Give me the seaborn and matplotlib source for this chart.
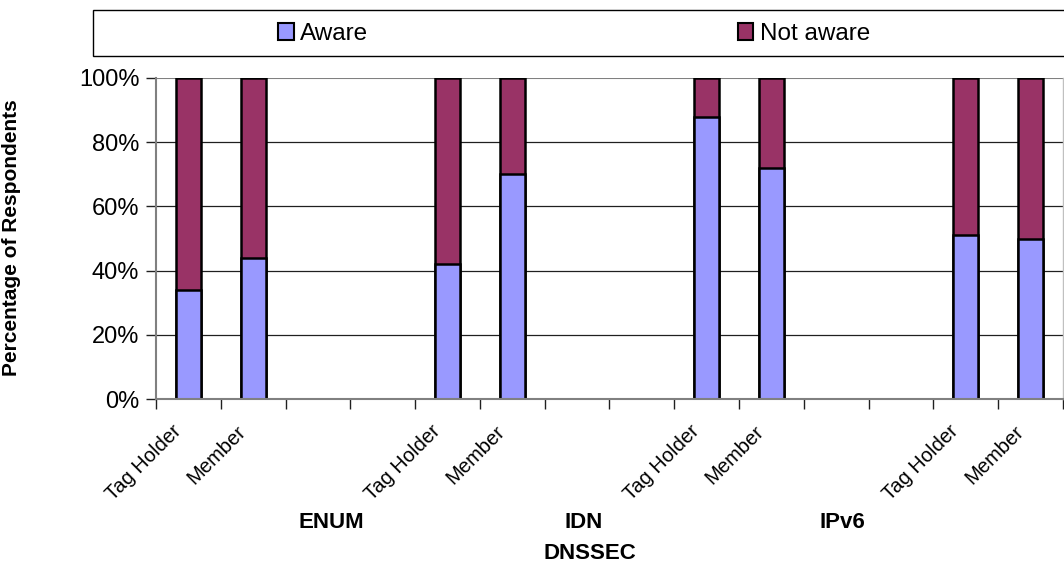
import matplotlib
matplotlib.use("Agg")
import matplotlib.pyplot as plt
from matplotlib.patches import Rectangle, Patch
from matplotlib.transforms import ScaledTranslation
import seaborn as sns
import pandas as pd
import numpy as np

# ---- data ----
slot_ids = [f"s{i}" for i in range(14)]
bar_slots = ["s0", "s1", "s4", "s5", "s8", "s9", "s12", "s13"]
respondent_labels = ["Tag Holder", "Member", "Tag Holder", "Member",
                     "Tag Holder", "Member", "Tag Holder", "Member"]
aware = [34, 44, 42, 70, 88, 72, 51, 50]
not_aware = [66, 56, 58, 30, 12, 28, 49, 50]
group_labels = ["ENUM", "IDN", "IPv6", "DNSSEC"]
series_names = ["Aware", "Not aware"]
y_ticks = [0, 20, 40, 60, 80, 100]

AWARE_C = "#9999FF"
NOT_C = "#993366"

df = pd.DataFrame({"slot": bar_slots, "label": respondent_labels,
                   "aware": aware, "not_aware": not_aware})
df["total"] = df["aware"] + df["not_aware"]

sns.set_theme(style="white")
plt.rcParams["font.family"] = ["Liberation Sans", "DejaVu Sans"]
plt.rcParams["text.color"] = "black"
plt.rcParams["xtick.color"] = "black"
plt.rcParams["ytick.color"] = "black"
plt.rcParams["axes.labelcolor"] = "black"

fig = plt.figure(figsize=(10.64, 5.65), dpi=100)
ax = fig.add_axes([156 / 1064, 1 - 399 / 565, (1063 - 156) / 1064, (399 - 78) / 565])

sns.barplot(data=df, x="slot", y="total", order=slot_ids, color=NOT_C,
            width=0.39, edgecolor="black", linewidth=1.8, saturation=1, ax=ax)
sns.barplot(data=df, x="slot", y="aware", order=slot_ids, color=AWARE_C,
            width=0.39, edgecolor="black", linewidth=1.8, saturation=1, ax=ax)

ax.set_xlim(-0.5, 13.5)
ax.set_ylim(0, 100)

# grid
ax.set_yticks(y_ticks)
ax.set_yticklabels([f"{v}%" for v in y_ticks], fontsize=17)
for v in y_ticks[1:-1]:
    ax.axhline(v, color="#202020", lw=0.9, zorder=0)
ax.axhline(100, color="#808080", lw=1.5, zorder=0)

for s in ["left", "bottom"]:
    ax.spines[s].set_color("#808080")
    ax.spines[s].set_linewidth(1.5)
ax.spines["right"].set_color("#c0c0c0")
ax.spines["right"].set_linewidth(1.0)
ax.spines["top"].set_visible(False)

ax.tick_params(axis="y", which="major", left=True, length=7, width=1.0,
               color="#202020", pad=5)

# x ticks: major at slot boundaries, minor (labels) at bars
bounds = np.arange(-0.5, 14.0, 1.0)
ax.set_xticks(bounds)
ax.set_xticklabels([""] * len(bounds))
ax.tick_params(axis="x", which="major", bottom=True, length=7, width=1.0,
               color="#202020")
pos = [slot_ids.index(s) for s in bar_slots]
ax.set_xticks(pos, minor=True)
ax.set_xticklabels(respondent_labels, minor=True, rotation=45, ha="right",
                   va="top", rotation_mode="anchor", fontsize=14.5)
ax.tick_params(axis="x", which="minor", length=0, pad=16.4)
shift = ScaledTranslation(-17 / 100, 0, fig.dpi_scale_trans)
for lbl in ax.get_xticklabels(minor=True):
    lbl.set_transform(lbl.get_transform() + shift)
ax.set_xlabel("")

ax.set_ylabel("Percentage of Respondents", fontsize=15, fontweight="bold")
ax.yaxis.set_label_coords(-0.149, 0.503)

# group labels
xt = ax.get_xaxis_transform()
gpos = [(2.2, -0.386), (6.1, -0.386), (10.1, -0.386), (6.2, -0.48)]
for g, (gx, gy) in zip(group_labels, gpos):
    ax.text(gx, gy, g, transform=xt, ha="center", va="center",
            fontsize=16, fontweight="bold")

# legend box
fig.patches.append(Rectangle((93 / 1064, 1 - 56 / 565), 1.0, 46 / 565,
                             transform=fig.transFigure, facecolor="white",
                             edgecolor="black", lw=1.0, zorder=0))
handles = [Patch(facecolor=AWARE_C, edgecolor="black", lw=1.5),
           Patch(facecolor=NOT_C, edgecolor="black", lw=1.5)]
fig.legend(handles, series_names, loc="center", ncol=2,
           bbox_to_anchor=(574 / 1064, 1 - 34 / 565), frameon=False,
           fontsize=17.5, handlelength=0.65, handleheight=0.65,
           handletextpad=0.25, columnspacing=15.2)

fig.savefig("out.png", dpi=100)
